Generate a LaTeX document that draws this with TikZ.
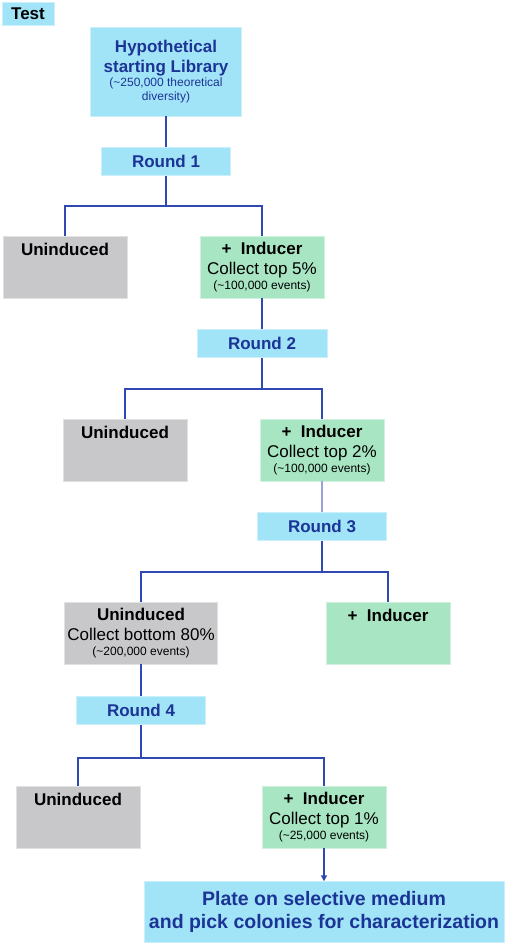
\documentclass[tikz,border=0pt]{standalone}
\usepackage{fontspec}
\setmainfont{Liberation Sans}
\usepackage{xcolor}
\usepackage{tikz}
\usetikzlibrary{arrows.meta, positioning}
\definecolor{skyFill}{RGB}{162, 228, 247}
\definecolor{mintFill}{RGB}{168, 230, 195}
\definecolor{greyFill}{RGB}{200, 200, 203}
\definecolor{navyText}{RGB}{27, 52, 150}
\definecolor{linkBlue}{RGB}{48, 72, 180}
\newcommand{\bigsize}{\fontsize{17}{20}\selectfont}
\newcommand{\smallsize}{\fontsize{12}{14}\selectfont}
\tikzset{
  skybox/.style={
    rectangle,
    draw=skyFill!55!white, line width=0.6pt,
    fill=skyFill, text=navyText,
    inner sep=0pt, align=center,
    font=\bigsize\bfseries
  },
  roundbox/.style={
    skybox,
    minimum width=129pt, minimum height=28pt
  },
  mintbox/.style={
    rectangle,
    draw=mintFill!55!white, line width=0.6pt,
    fill=mintFill,
    minimum width=124pt, minimum height=62pt,
    inner sep=0pt, align=center,
    font=\bigsize
  },
  greybox/.style={
    rectangle,
    draw=greyFill!55!white, line width=0.6pt,
    fill=greyFill,
    minimum width=124pt, minimum height=62pt,
    inner sep=0pt, align=center,
    font=\bigsize
  },
  topline/.style={
    text height=13pt, text depth=36pt, inner ysep=6.5pt,
    font=\bigsize\bfseries
  },
  link/.style={
    draw=linkBlue, line width=1.6pt
  },
  arrow/.style={
    link, -{Triangle[length=6pt,width=6pt]}
  }
}

\begin{document}
\begin{tikzpicture}[x=1pt, y=-1pt]
\useasboundingbox (0,0) rectangle (505,944);

% --- header ---
\node[skybox, text=black, minimum width=52pt, minimum height=23pt] (test) at (28,13.5) {Test};
\node[skybox, minimum width=151pt, minimum height=89pt] (hyp) at (166,71.5)
  {Hypothetical\\starting Library\\[-6pt]{\smallsize\mdseries (\textasciitilde250,000 theoretical}\\[-6pt]{\smallsize\mdseries diversity)}};

% --- Round 1 ---
\node[roundbox, below=31pt of hyp] (r1) {Round 1};
\coordinate[below=30pt of r1.south] (j1);
\node[greybox, topline] (un1) at (65,267) {Uninduced};
\node[mintbox] (in1) at (262,267)
  {\textbf{+\ \ Inducer}\\Collect top 5\%\\[-5pt]{\smallsize(\textasciitilde100,000 events)}};

% --- Round 2 ---
\node[roundbox, minimum width=130pt, below=31pt of in1] (r2) {Round 2};
\coordinate[below=31pt of r2.south] (j2);
\node[greybox, topline] (un2) at (125,450) {Uninduced};
\node[mintbox] (in2) at (322,450)
  {\textbf{+\ \ Inducer}\\Collect top 2\%\\[-5pt]{\smallsize(\textasciitilde100,000 events)}};

% --- Round 3 ---
\node[roundbox, below=31pt of in2] (r3) {Round 3};
\coordinate[below=31pt of r3.south] (j3);
\node[greybox, minimum width=153pt] (un3) at (141,633)
  {\textbf{Uninduced}\\Collect bottom 80\%\\[-5pt]{\smallsize(\textasciitilde200,000 events)}};
\node[mintbox, topline] (in3) at (388,633) {+\ \ Inducer};

% --- Round 4 ---
\node[roundbox, below=32pt of un3] (r4) {Round 4};
\coordinate[below=33pt of r4.south] (j4);
\node[greybox, topline] (un4) at (78,817) {Uninduced};
\node[mintbox] (in4) at (324,817)
  {\textbf{+\ \ Inducer}\\Collect top 1\%\\[-5pt]{\smallsize(\textasciitilde25,000 events)}};

% --- final step ---
\node[skybox, font=\fontsize{19.5}{23}\selectfont\bfseries, minimum width=360pt, minimum height=61pt, below=33pt of in4] (plate)
  {Plate on selective medium\\and pick colonies for characterization};

% --- connectors ---
\draw[link] (hyp) -- (r1);
\draw[link] (r1.south) -- (j1);
\draw[link] (j1) -| (un1.north);
\draw[link] (j1) -| (in1.north);
\draw[link] (in1) -- (r2);

\draw[link] (r2.south) -- (j2);
\draw[link] (j2) -| (un2.north);
\draw[link] (j2) -| (in2.north);
\draw[link, draw=linkBlue!50!white] (in2) -- (r3);

\draw[link] (r3.south) -- (j3);
\draw[link] (j3) -| (un3.north);
\draw[link] (j3) -| (in3.north);
\draw[link] (un3) -- (r4);

\draw[link] (r4.south) -- (j4);
\draw[link] (j4) -| (un4.north);
\draw[link] (j4) -| (in4.north);
\draw[arrow] (in4.south) -- (plate.north -| in4.south);

\end{tikzpicture}
\end{document}
